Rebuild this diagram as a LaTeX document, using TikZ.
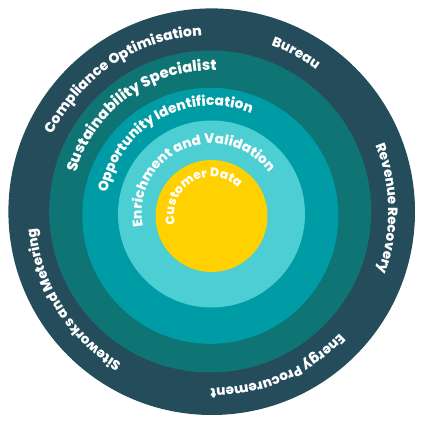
\documentclass[tikz,border=0pt]{standalone}
\usepackage{fontspec}
\setmainfont{Poppins}[BoldFont=* ExtraBold]
\usetikzlibrary{decorations.text}

\definecolor{outerring}{HTML}{244C5B}
\definecolor{secondring}{HTML}{0E7474}
\definecolor{thirdring}{HTML}{009CA6}
\definecolor{fourthring}{HTML}{4DCED2}
\definecolor{coredata}{HTML}{FFD100}

\tikzset{
  ring/.style={fill=#1, draw=none},
  ringtext/.style 2 args={decorate, decoration={text along path, text align=center,
      text color=white, text={|\bfseries\fontsize{#1}{16}\selectfont|#2}}},
}

\begin{document}
\begin{tikzpicture}[x=1pt,y=1pt]
        \useasboundingbox (-211.7,-213.3) rectangle (213.3,211.7);
        \coordinate (c) at (0,0);

        % rings, outside in
        \fill[ring=outerring]  (c) circle[radius=203.3];
        \fill[ring=secondring] (-1.5,0.2) circle[radius=161];
        \fill[ring=thirdring]  (-1.4,-4.1) circle[radius=128];
        \fill[ring=fourthring] (-0.2,-2.3) circle[radius=93.5];
        \fill[ring=coredata]   (-0.2,-4.3) circle[radius=56];

        % outer ring
        \path[ringtext={14}{Compliance Optimisation}] (c) ++(213.6:176.5) arc[start angle=213.6, end angle=33.6, radius=176.5];
        \path[ringtext={13.5}{Bureau}] (c) ++(152:176.5) arc[start angle=152, end angle=-28, radius=176.5];
        \path[ringtext={13.5}{Revenue Recovery}] (c) ++(91:176.5) arc[start angle=91, end angle=-89, radius=176.5];
        \path[ringtext={13.5}{Energy Procurement}] (c) ++(23:176.5) arc[start angle=23, end angle=-157, radius=176.5];
        \path[ringtext={13.5}{Siteworks and Metering}] (c) ++(-57.6:176.5) arc[start angle=-57.6, end angle=-237.6, radius=176.5];

        % inner rings
        \path[ringtext={14.8}{Sustainability Specialist}] (c) ++(216:141) arc[start angle=216, end angle=36, radius=141];
        \path[ringtext={13.8}{Opportunity Identification}] (c) ++(209:106) arc[start angle=209, end angle=29, radius=106];
        \path[ringtext={13.6}{Enrichment and Validation}] (0,-2) ++(213:70) arc[start angle=213, end angle=13, radius=70];
        \path[ringtext={12.4}{Customer Data}] (0,-3) ++(210:37.5) arc[start angle=210, end angle=30, radius=37.5];

    \end{tikzpicture}
\end{document}
